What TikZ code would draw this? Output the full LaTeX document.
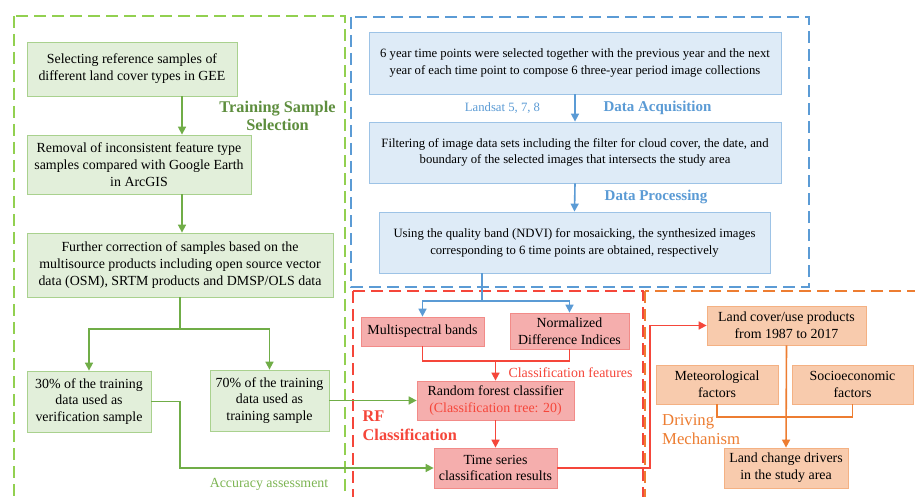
\documentclass[tikz,border=0pt]{standalone}
\usepackage{fontspec}
\setmainfont{Liberation Serif}
\usetikzlibrary{arrows.meta}
\definecolor{gfill}{HTML}{E2EFDA}
\definecolor{gedge}{HTML}{A9D18E}
\definecolor{gline}{HTML}{70AD47}
\definecolor{gdashc}{HTML}{92D050}
\definecolor{gtext}{HTML}{5E8E3E}
\definecolor{gtextl}{HTML}{7DB553}
\definecolor{bfill}{HTML}{DEEBF7}
\definecolor{bedge}{HTML}{9DC3E6}
\definecolor{bline}{HTML}{5B9BD5}
\definecolor{btext}{HTML}{5B9BD5}
\definecolor{rfill}{HTML}{F5AEAD}
\definecolor{redge}{HTML}{F28B88}
\definecolor{rline}{HTML}{F5463A}
\definecolor{rtext}{HTML}{F5463A}
\definecolor{ofill}{HTML}{F8CBAD}
\definecolor{oedge}{HTML}{F4B183}
\definecolor{oline}{HTML}{ED7D31}
\begin{document}
\begin{tikzpicture}[x=1pt,y=-1pt,
  every node/.style={font=\fontsize{13.9}{16.8}\selectfont, align=center, inner sep=1pt},
  gbox/.style={draw=gedge, fill=gfill, line width=0.8pt},
  bbox/.style={draw=bedge, fill=bfill, line width=0.8pt, font=\fontsize{12.7}{16.8}\selectfont},
  rbox/.style={draw=redge, fill=rfill, line width=0.8pt},
  obox/.style={draw=oedge, fill=ofill, line width=0.8pt},
  dashbox/.style={line width=1.8pt, dash pattern=on 12pt off 6pt},
  gcon/.style={draw=gline, line width=1.6pt},
  bcon/.style={draw=bline, line width=1.6pt},
  rcon/.style={draw=rline, line width=1.6pt},
  ocon/.style={draw=oline, line width=1.6pt},
  tip/.style={-{Triangle[length=8pt,width=8pt]}},
  title/.style={font=\fontsize{15}{18}\selectfont\bfseries},
  sizes/.style 2 args={minimum width=#1pt, minimum height=#2pt}
]
\useasboundingbox (0,0) rectangle (915,497);
\clip (0,0) rectangle (915,497);
\fill[white] (0,0) rectangle (915,497);

% dashed regions
\draw[dashbox, draw=gdashc] (14,16) rectangle (345,520);
\draw[dashbox, draw=bline] (351,17) rectangle (809,287);
\draw[dashbox, draw=rline] (353,291) rectangle (643,520);
\draw[dashbox, draw=oline] (645,291) rectangle (940,520);

% green boxes
\node[gbox, sizes={210}{54}] (B1) at (132,69) {Selecting reference samples of\\different land cover types in GEE};
\node[gbox, sizes={224}{59}] (B2) at (139,164.5) {Removal of inconsistent feature type\\samples compared with Google Earth\\in ArcGIS};
\node[gbox, sizes={306}{64}] (B3) at (180,265) {Further correction of samples based on the\\multisource products including open source vector\\data (OSM), SRTM products and DMSP/OLS data};
\node[gbox, sizes={124}{61}] (B4) at (89,401.5) {30\% of the training\\data used as\\verification sample};
\node[gbox, sizes={119}{61}] (B5) at (269.5,400.5) {70\% of the training\\data used as\\training sample};

% blue boxes
\node[bbox, sizes={412}{62}] (D1) at (575,63) {6 year time points were selected together with the previous year and the next\\year of each time point to compose 6 three-year period image collections};
\node[bbox, sizes={412}{61}] (D2) at (575,152.5) {Filtering of image data sets including the filter for cloud cover, the date, and\\boundary of the selected images that intersects the study area};
\node[bbox, sizes={391}{61}] (D3) at (574.5,242.5) {Using the quality band (NDVI) for mosaicking, the synthesized images\\corresponding to 6 time points are obtained, respectively};

% red boxes
\node[rbox, sizes={123}{29}] (R1) at (422.5,331.5) {Multispectral bands};
\node[rbox, sizes={119}{36}] (R2) at (569.5,331) {Normalized\\Difference Indices};
\node[rbox, sizes={157}{39}] (R3) at (495.5,400.5) {Random forest classifier\\\textcolor{rtext}{(Classification tree: 20)}};
\node[rbox, sizes={123}{40}] (R4) at (495.5,468) {Time series\\classification results};

% orange boxes
\node[obox, sizes={159}{39}] (O1) at (786.5,325.5) {Land cover/use products\\from 1987 to 2017};
\node[obox, sizes={122}{39}] (O2) at (717,384.5) {Meteorological\\factors};
\node[obox, sizes={121}{39}] (O3) at (852.5,384.5) {Socioeconomic\\factors};
\node[obox, sizes={124}{40}] (O4) at (786,468) {Land change drivers\\in the study area};

% labels
\node[font=\fontsize{16.3}{18.5}\selectfont\bfseries, text=gtext] (LTS) at (277.5,116) {Training Sample\\Selection};
\node[font=\fontsize{12.7}{14}\selectfont, text=btext] (LLS) at (502.5,108) {Landsat 5, 7, 8};
\node[title, text=btext] (LDA) at (657.5,108) {Data Acquisition};
\node[title, text=btext] (LDP) at (656,197) {Data Processing};
\node[font=\fontsize{13.9}{16}\selectfont, text=rtext] (LCF) at (570.5,373) {Classification features};
\node[font=\fontsize{16.3}{19}\selectfont\bfseries, text=rtext, anchor=west, align=left] (LRF) at (361.5,426) {RF\\Classification};
\node[font=\fontsize{16.7}{18.5}\selectfont, text=oline, anchor=west, align=left] (LDM) at (661,429.5) {Driving\\Mechanism};
\node[font=\fontsize{13.9}{16}\selectfont, text=gtextl] (LAA) at (269,484) {Accuracy assessment};

% green connectors
\coordinate (gx) at (182,0);
\draw[gcon, tip] (B1.south -| gx) -- (B2.north -| gx);
\draw[gcon, tip] (B2.south -| gx) -- (B3.north -| gx);
\coordinate (gs) at (180,329);
\draw[gcon] (B3.south) -- (gs);
\draw[gcon, tip] (gs) -| (B4.north);
\draw[gcon, tip] (gs) -| (B5.north);
\draw[gcon, tip] (B5.east) -- (R3.west);
\draw[gcon, tip] (B4.east) -- (B4.east -| B3.south) |- (R4.west);

% blue connectors
\draw[bcon, tip] (D1.south) -- (D2.north);
\draw[bcon, tip] (D2.south) -- (D3.north);
\coordinate (ds) at (482,301);
\draw[bcon] (D3.south -| ds) -- (ds);
\draw[bcon, tip] (ds) -| (R1.north);
\draw[bcon, tip] (ds) -| (R2.north);

% red connectors
\coordinate (rj) at (495.5,361);
\draw[rcon] (R1.south) |- (rj) -| (R2.south);
\draw[rcon, tip] (rj) -- (R3.north);
\draw[rcon, tip] (R3.south) -- (R4.north);
\coordinate (rx) at (650,0);
\draw[rcon, tip] (R4.east) -- (R4.east -| rx) |- (O1.west);

% orange connectors
\coordinate (oj) at (786,417);
\draw[ocon] (O2.south) |- (oj) -| (O3.south);
\draw[ocon, tip] (O1.south) -- (O4.north);
\end{tikzpicture}
\end{document}
